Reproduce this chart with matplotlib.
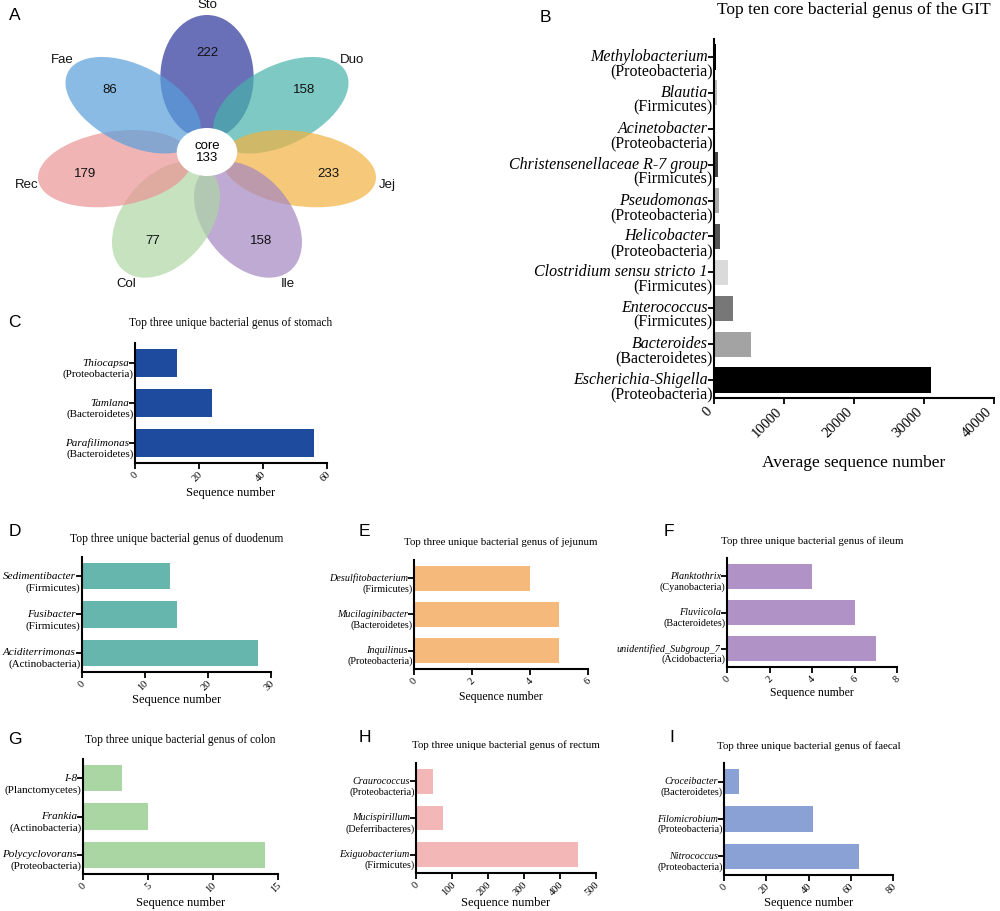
import numpy as np
import matplotlib
matplotlib.use("Agg")
import matplotlib.pyplot as plt
import matplotlib.transforms as mtransforms
from matplotlib.patches import Ellipse

W, H = 1000, 911
SERIF = "Liberation Serif"
SANS = "Liberation Sans"

# --- datos: diagrama de flor (A) ---
venn_sets = ["Sto", "Duo", "Jej", "Ile", "Col", "Rec", "Fae"]
venn_unique = [222, 158, 233, 158, 77, 179, 86]
venn_core = 133
venn_colors = ["#2a339a", "#47b3ac", "#f2b241", "#a486c2", "#aed6a4", "#ea9494", "#599fdb"]

# --- datos: géneros core (B), de abajo hacia arriba ---
core_genus = ["Escherichia-Shigella", "Bacteroides", "Enterococcus",
              "Clostridium sensu stricto 1", "Helicobacter", "Pseudomonas",
              "Christensenellaceae R-7 group", "Acinetobacter", "Blautia",
              "Methylobacterium"]
core_phylum = ["(Proteobacteria)", "(Bacteroidetes)", "(Firmicutes)", "(Firmicutes)",
               "(Proteobacteria)", "(Proteobacteria)", "(Firmicutes)",
               "(Proteobacteria)", "(Firmicutes)", "(Proteobacteria)"]
core_values = [31000, 5300, 2700, 2000, 850, 700, 550, 120, 400, 350]
core_colors = ["#000000", "#a3a3a3", "#777777", "#dadada", "#555555",
               "#ababab", "#444444", "#dddddd", "#bdbdbd", "#000000"]
core_ticks = [0, 10000, 20000, 30000, 40000]

# --- datos: géneros únicos por segmento (C-I), de abajo hacia arriba ---
sto_genus = ["Parafilimonas", "Tamlana", "Thiocapsa"]
sto_phylum = ["(Bacteroidetes)", "(Bacteroidetes)", "(Proteobacteria)"]
sto_values = [56, 24, 13]
sto_ticks = [0, 20, 40, 60]

duo_genus = ["Aciditerrimonas", "Fusibacter", "Sedimentibacter"]
duo_phylum = ["(Actinobacteria)", "(Firmicutes)", "(Firmicutes)"]
duo_values = [28, 15, 14]
duo_ticks = [0, 10, 20, 30]

jej_genus = ["Inquilinus", "Mucilaginibacter", "Desulfitobacterium"]
jej_phylum = ["(Proteobacteria)", "(Bacteroidetes)", "(Firmicutes)"]
jej_values = [5, 5, 4]
jej_ticks = [0, 2, 4, 6]

ile_genus = ["unidentified_Subgroup_7", "Fluviicola", "Planktothrix"]
ile_phylum = ["(Acidobacteria)", "(Bacteroidetes)", "(Cyanobacteria)"]
ile_values = [7, 6, 4]
ile_ticks = [0, 2, 4, 6, 8]

col_genus = ["Polycyclovorans", "Frankia", "I-8"]
col_phylum = ["(Proteobacteria)", "(Actinobacteria)", "(Planctomycetes)"]
col_values = [14, 5, 3]
col_ticks = [0, 5, 10, 15]

rec_genus = ["Exiguobacterium", "Mucispirillum", "Craurococcus"]
rec_phylum = ["(Firmicutes)", "(Deferribacteres)", "(Proteobacteria)"]
rec_values = [450, 75, 46]
rec_ticks = [0, 100, 200, 300, 400, 500]

fae_genus = ["Nitrococcus", "Filomicrobium", "Croceibacter"]
fae_phylum = ["(Proteobacteria)", "(Proteobacteria)", "(Bacteroidetes)"]
fae_values = [64, 42, 7]
fae_ticks = [0, 20, 40, 60, 80]


def rect_px(x0, y0, x1, y1):
    return [x0 / W, 1 - y1 / H, (x1 - x0) / W, (y1 - y0) / H]


def fig_text(fig, x, y, s, **kw):
    fig.text(x / W, 1 - y / H, s, **kw)


fig = plt.figure(figsize=(W / 100, H / 100), dpi=100)

# --- A: diagrama de flor ---
ax = fig.add_axes(rect_px(0, 0, 420, 300))
sx = 1.26  # estiramiento horizontal del original
cx, cy = 207, 152
ax.set_xlim(-cx / sx, (420 - cx) / sx)
ax.set_ylim(-(300 - cy), cy)
ax.axis("off")
n = len(venn_sets)
for k in range(n):
    th = 90 - k * 360 / n
    ux, uy = np.cos(np.radians(th)), np.sin(np.radians(th))
    ax.add_patch(Ellipse((75 * ux, 75 * uy), 124, 74, angle=th,
                         facecolor=venn_colors[k], alpha=0.7, edgecolor="none"))
    ax.text(99 * ux, 99 * uy, str(venn_unique[k]), ha="center", va="center",
            fontsize=9.5, family=SANS, color="#111111", zorder=5)
    ax.text(147 * ux, 147 * uy, venn_sets[k], ha="center", va="center",
            fontsize=9.5, family=SANS, color="#111111", zorder=5)
ax.add_patch(Ellipse((0, 0), 48, 48, facecolor="white", edgecolor="none", zorder=4))
ax.text(0, 0, "core\n%d" % venn_core, ha="center", va="center", fontsize=9.5,
        family=SANS, linespacing=0.95, zorder=5)


def bar_panel(rect, genus, phylum, values, colors, ticks, title, title_y,
              xlabel, xlabel_y, fs, title_fs, xl_fs, tick_fs, dy, bar_h=0.68,
              tick_shift=0):
    ax = fig.add_axes(rect_px(*rect))
    y = np.arange(len(genus))
    ax.barh(y, values, height=bar_h, color=colors, edgecolor="none")
    ax.set_ylim(-0.5, len(genus) - 0.5)
    ax.set_xlim(ticks[0], ticks[-1])
    ax.set_xticks(ticks)
    ax.set_xticklabels([])
    ax.set_yticks(y)
    ax.set_yticklabels([])
    for s in ["top", "right"]:
        ax.spines[s].set_visible(False)
    for s in ["left", "bottom"]:
        ax.spines[s].set_linewidth(1.5)
    ax.tick_params(width=1.3, length=4, direction="out", pad=2)
    # etiquetas del eje x giradas 45 grados, ancladas bajo cada marca
    xtr = ax.get_xaxis_transform()
    for t in ticks:
        ax.annotate(str(t), xy=(t, 0), xycoords=xtr, xytext=(-tick_shift, -5),
                    textcoords="offset points", rotation=45, ha="right", va="top",
                    rotation_mode="anchor", family=SERIF, fontsize=tick_fs)
    tr = ax.get_yaxis_transform()
    for i in range(len(genus)):
        ax.annotate(genus[i], xy=(0, y[i]), xycoords=tr, xytext=(-4.5, 0),
                    textcoords="offset points", ha="right", va="center",
                    fontsize=fs, family=SERIF, style="italic")
        ax.annotate(phylum[i], xy=(0, y[i]), xycoords=tr, xytext=(-1, -dy),
                    textcoords="offset points", ha="right", va="center",
                    fontsize=fs, family=SERIF)
    xc = (rect[0] + rect[2]) / 2
    fig_text(fig, xc, title_y, title, ha="center", va="center",
             fontsize=title_fs, family=SERIF)
    fig_text(fig, xc, xlabel_y, xlabel, ha="center", va="center",
             fontsize=xl_fs, family=SERIF)
    return ax


# --- B ---
bar_panel((714, 39, 994, 398), core_genus, core_phylum, core_values, core_colors,
          core_ticks, "Top ten core bacterial genus of the GIT", 10,
          "Average sequence number", 463, 11.5, 12.5, 12.5, 10.5, 10.5, bar_h=0.7,
          tick_shift=6)

# --- C-I ---
seg_panels = [
    ((135, 343, 327, 463), sto_genus, sto_phylum, sto_values, "#1f4b9f", sto_ticks,
     "stomach", 323, 493, 8, 8.3, 9),
    ((82, 557, 271, 672), duo_genus, duo_phylum, duo_values, "#67b6ae", duo_ticks,
     "duodenum", 539, 700, 8, 8.3, 9),
    ((414, 560, 588, 669), jej_genus, jej_phylum, jej_values, "#f6b97c", jej_ticks,
     "jejunum", 542, 697, 7.3, 7.8, 8.5),
    ((727, 558, 897, 667), ile_genus, ile_phylum, ile_values, "#b192c6", ile_ticks,
     "ileum", 541, 693, 7.3, 7.8, 8.5),
    ((83, 759, 278, 874), col_genus, col_phylum, col_values, "#a9d6a2", col_ticks,
     "colon", 740, 903, 8, 8.3, 9),
    ((416, 763, 596, 873), rec_genus, rec_phylum, rec_values, "#f4b7b8", rec_ticks,
     "rectum", 745, 903, 7.3, 7.8, 9),
    ((724, 763, 893, 875), fae_genus, fae_phylum, fae_values, "#8aa1d6", fae_ticks,
     "faecal", 746, 903, 7.3, 7.8, 9),
]
for rect, g, p, v, c, t, organ, ty, xy, fs, tfs, xfs in seg_panels:
    bar_panel(rect, g, p, v, c, t, "Top three unique bacterial genus of " + organ, ty,
              "Sequence number", xy, fs, tfs, xfs, 7.5, fs * 1.05, tick_shift=1)

# --- letras de panel ---
letters = [("A", 15, 15), ("B", 545, 17), ("C", 14, 323), ("D", 15, 532),
           ("E", 364, 532), ("F", 669, 531), ("G", 15, 739), ("H", 365, 738),
           ("I", 672, 738)]
for s, x, y in letters:
    fig_text(fig, x, y, s, ha="center", va="center", fontsize=12.5, family=SANS)

fig.savefig("out.png", dpi=100)
